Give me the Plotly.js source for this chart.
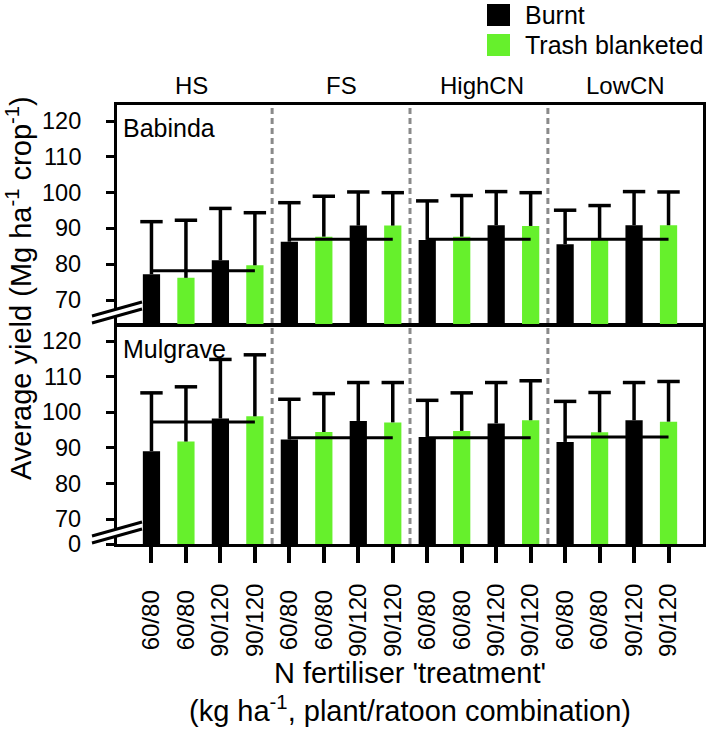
<!DOCTYPE html>
<html>
<head>
<meta charset="utf-8">
<script src="https://cdn.plot.ly/plotly-3.0.1.min.js"></script>
<style>html,body{margin:0;padding:0;background:#fff;}</style>
</head>
<body>
<div id="chart" style="width:708px;height:729px;"></div>
<script>
// ---------------- data ----------------
const groups = ['HS', 'FS', 'HighCN', 'LowCN'];
const tickLabels = ['60/80','60/80','90/120','90/120','60/80','60/80','90/120','90/120',
                    '60/80','60/80','90/120','90/120','60/80','60/80','90/120','90/120'];
const seriesNames = ['Burnt', 'Trash blanketed'];
const sites = ['Babinda', 'Mulgrave'];

// order: HS 60/80, HS 90/120, FS 60/80, FS 90/120, HighCN 60/80, HighCN 90/120, LowCN 60/80, LowCN 90/120
const babindaBurnt     = [77.2, 81.1, 86.3, 90.8, 86.8, 90.9, 85.6, 90.9];
const babindaTrash     = [76.2, 79.7, 87.7, 90.8, 87.7, 90.7, 87.0, 90.9];
const babindaBurntErr  = [14.7, 14.5, 10.9, 9.4, 10.9, 9.4, 9.5, 9.4];
const babindaTrashErr  = [16.1, 14.7, 11.3, 9.2, 11.5, 9.3, 9.4, 9.3];
const babindaMean      = [78.2, 87.0, 87.0, 87.0];

const mulgraveBurnt    = [89.1, 98.3, 92.4, 97.6, 93.1, 96.9, 91.7, 97.8];
const mulgraveTrash    = [91.8, 98.9, 94.5, 97.2, 94.8, 97.8, 94.4, 97.4];
const mulgraveBurntErr = [16.4, 16.6, 11.3, 10.8, 10.3, 11.5, 11.4, 10.6];
const mulgraveTrashErr = [15.4, 17.3, 10.8, 11.2, 10.7, 11.1, 11.2, 11.3];
const mulgraveMean     = [97.3, 92.9, 92.9, 93.1];

const yTickVals = [70, 80, 90, 100, 110, 120];
const yTickLabels = ['70', '80', '90', '100', '110', '120'];
const brokenZeroLabel = '0';

// ---------------- styling helpers ----------------
const BLACK = '#000000';
const GREEN = '#66f02c';
const FONT = 'Liberation Sans, Arial, Helvetica, sans-serif';
const L = 117, R = 703, T = 105, B = 544;
const px = x => (x - L) / (R - L);
const py = y => (B - y) / (B - T);
const NB = '\u00a0';

const Y_MIN_BOTTOM = 63, Y_MIN_TOP = 63.3;

const burntPos = babindaBurnt.map((_, k) => 2 * k);
const trashPos = babindaTrash.map((_, k) => 2 * k + 1);
const allPos = tickLabels.map((_, i) => i);
// pad the shorter labels so that all rotated labels are centred on one line
const xTickText = tickLabels.map(t => t.length < 6 ? t + NB : t);

function panelTraces(burnt, trash, bErr, tErr, means, xa, ya) {
  const out = [];
  const mk = (pos, vals, errs, color, name) => ({
    type: 'bar', x: pos, y: vals, width: 0.5, name: name, showlegend: false,
    xaxis: xa, yaxis: ya, hoverinfo: 'skip',
    marker: {color: color, line: {width: 0}},
    error_y: {type: 'data', symmetric: false, array: errs, arrayminus: errs.map(() => 0),
              width: 0, thickness: 3.5, color: BLACK}
  });
  out.push(mk(burntPos, burnt, bErr, BLACK, seriesNames[0]));
  out.push(mk(trashPos, trash, tErr, GREEN, seriesNames[1]));
  // group mean lines
  const mx = [], my = [];
  means.forEach((m, g) => { mx.push(4 * g, 4 * g + 3, null); my.push(m, m, null); });
  out.push({type: 'scatter', mode: 'lines', x: mx, y: my, xaxis: xa, yaxis: ya,
            line: {color: BLACK, width: 3}, showlegend: false, hoverinfo: 'skip'});
  // error bar caps
  const cx = burntPos.concat(trashPos);
  const cy = burnt.map((v, i) => v + bErr[i]).concat(trash.map((v, i) => v + tErr[i]));
  out.push({type: 'scatter', mode: 'markers', x: cx, y: cy, xaxis: xa, yaxis: ya,
            marker: {symbol: 'line-ew', size: 16, color: BLACK, line: {color: BLACK, width: 3.5}},
            showlegend: false, hoverinfo: 'skip', cliponaxis: false});
  return out;
}

const data = []
  .concat(panelTraces(babindaBurnt, babindaTrash, babindaBurntErr, babindaTrashErr, babindaMean, 'x2', 'y2'))
  .concat(panelTraces(mulgraveBurnt, mulgraveTrash, mulgraveBurntErr, mulgraveTrashErr, mulgraveMean, 'x', 'y'));

// ---------------- shapes ----------------
const shapes = [];
[[3.5, 'x', 'y domain'], [7.5, 'x', 'y domain'], [11.5, 'x', 'y domain'],
 [3.5, 'x2', 'y2 domain'], [7.5, 'x2', 'y2 domain'], [11.5, 'x2', 'y2 domain']].forEach(s => {
  shapes.push({type: 'line', xref: s[1], yref: s[2], x0: s[0], x1: s[0], y0: 0, y1: 1,
               line: {color: '#8a8a8a', width: 3, dash: '6px,4px'}, layer: 'below'});
});
// axis-break marks
[324, 544].forEach(b => {
  shapes.push({type: 'path', xref: 'paper', yref: 'paper',
    path: `M${px(92)},${py(b - 8)} L${px(142)},${py(b - 22)} L${px(142)},${py(b - 15)} L${px(92)},${py(b - 1)} Z`,
    fillcolor: '#ffffff', line: {width: 0}, layer: 'above'});
  shapes.push({type: 'line', xref: 'paper', yref: 'paper', x0: px(92), y0: py(b - 8), x1: px(142), y1: py(b - 22),
    line: {color: BLACK, width: 3}, layer: 'above'});
  shapes.push({type: 'line', xref: 'paper', yref: 'paper', x0: px(92), y0: py(b - 1), x1: px(142), y1: py(b - 15),
    line: {color: BLACK, width: 3}, layer: 'above'});
});
// legend keys
[[4, 26, BLACK], [34, 56, GREEN]].forEach(k => {
  shapes.push({type: 'rect', xref: 'paper', yref: 'paper', x0: px(487), x1: px(510), y0: py(k[1]), y1: py(k[0]),
    fillcolor: k[2], line: {width: 0}, layer: 'above'});
});

// ---------------- annotations ----------------
const groupX = [1.15, 5.5, 9.6, 13.75];
const annotations = groups.map((g, i) => ({
  text: g, xref: 'x2', x: groupX[i], yref: 'paper', y: py(85), yanchor: 'middle',
  showarrow: false, font: {size: 24, color: BLACK}
}));
annotations.push({text: sites[0], xref: 'paper', x: px(121), xanchor: 'left', yref: 'paper', y: py(112),
  yanchor: 'top', showarrow: false, font: {size: 25, color: BLACK}});
annotations.push({text: sites[1], xref: 'paper', x: px(121), xanchor: 'left', yref: 'paper', y: py(333),
  yanchor: 'top', showarrow: false, font: {size: 25, color: BLACK}});
annotations.push({text: 'Average yield (Mg ha<sup>-1</sup> crop<sup>-1</sup>)', textangle: -90,
  xref: 'paper', x: px(19), yref: 'paper', y: py(288), xanchor: 'center', yanchor: 'middle',
  showarrow: false, font: {size: 29, color: BLACK}});
// legend labels
[[15, seriesNames[0]], [45, seriesNames[1]]].forEach(k => {
  annotations.push({text: k[1], xref: 'paper', x: px(523), xanchor: 'left', yref: 'paper', y: py(k[0]),
    yanchor: 'middle', showarrow: false, font: {size: 25, color: BLACK}});
});
// y tick labels (placed by the y axes' own scales, with the wider gap of the original)
const yLab = (v, t, ya) => ({text: t, xref: 'paper', x: px(83), xanchor: 'right', yref: ya, y: v,
  yanchor: 'middle', showarrow: false, font: {size: 23.5, color: BLACK}});
yTickVals.forEach((v, i) => { annotations.push(yLab(v, yTickLabels[i], 'y2')); annotations.push(yLab(v, yTickLabels[i], 'y')); });
annotations.push(yLab(Y_MIN_BOTTOM, brokenZeroLabel, 'y'));

const axisCommon = {showline: true, linewidth: 3, linecolor: BLACK, mirror: true,
  showgrid: false, zeroline: false, automargin: false, fixedrange: true};

const layout = {
  width: 708, height: 729,
  margin: {l: L, r: 708 - R, t: T, b: 729 - B, pad: 0},
  paper_bgcolor: '#ffffff', plot_bgcolor: '#ffffff',
  font: {family: FONT, size: 24, color: BLACK},
  barmode: 'overlay',
  showlegend: false,
  xaxis: Object.assign({}, axisCommon, {
    domain: [0, 1], anchor: 'y', range: [-1, 16],
    tickmode: 'array', tickvals: allPos, ticktext: xTickText, tickangle: -90,
    ticks: 'outside', ticklen: 16, tickwidth: 4, tickcolor: BLACK,
    tickfont: {size: 24}, ticklabelstandoff: 11,
    title: {text: "N fertiliser 'treatment'<br>(kg ha<sup>-1</sup>, plant/ratoon combination)",
            font: {size: 29}, standoff: 0}
  }),
  yaxis: Object.assign({}, axisCommon, {
    domain: [0, py(326)], anchor: 'x', range: [Y_MIN_BOTTOM, 124.3],
    tickmode: 'array', tickvals: [Y_MIN_BOTTOM].concat(yTickVals), showticklabels: false,
    ticks: 'outside', ticklen: 8, tickwidth: 3, tickcolor: BLACK
  }),
  xaxis2: Object.assign({}, axisCommon, {
    domain: [0, 1], anchor: 'y2', matches: 'x', range: [-1, 16],
    showticklabels: false, ticks: ''
  }),
  yaxis2: Object.assign({}, axisCommon, {
    domain: [py(324), 1], anchor: 'x2', range: [Y_MIN_TOP, 124.5],
    tickmode: 'array', tickvals: yTickVals, showticklabels: false,
    ticks: 'outside', ticklen: 8, tickwidth: 3, tickcolor: BLACK
  }),
  shapes: shapes,
  annotations: annotations
};

Plotly.newPlot('chart', data, layout, {displayModeBar: false, staticPlot: true});
</script>
</body>
</html>
